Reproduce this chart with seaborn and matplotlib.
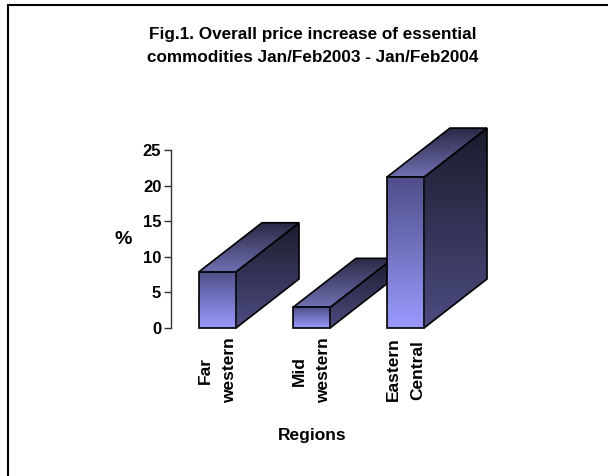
import numpy as np
import pandas as pd
import matplotlib
matplotlib.use("Agg")
import matplotlib.pyplot as plt
import seaborn as sns
from matplotlib.patches import Polygon
from matplotlib.lines import Line2D
from matplotlib.colors import to_rgb

# ---- data ----
regions = ["Far\nwestern", "Mid\nwestern", "Eastern\nCentral"]
increase_pct = [7.9, 2.9, 21.2]
y_ticks = [0, 5, 10, 15, 20, 25]
title_lines = ["Fig.1. Overall price increase of essential",
               "commodities Jan/Feb2003 - Jan/Feb2004"]

sns.set_theme(style="white")
plt.rcParams["font.family"] = ["Liberation Sans", "DejaVu Sans"]
plt.rcParams["text.color"] = "black"
plt.rcParams["axes.labelcolor"] = "black"
plt.rcParams["xtick.color"] = "black"
plt.rcParams["ytick.color"] = "black"

W, H = 608, 476
fig = plt.figure(figsize=(W / 100, H / 100), dpi=100)
fig.patch.set_facecolor("white")

px_per_cat = 94.0
px_per_unit = 7.12
x_left_px, x_right_px = 171, 500
y0_px = 328
ymax = 30
ax = fig.add_axes([x_left_px / W, (H - y0_px) / H,
                   (x_right_px - x_left_px) / W, ymax * px_per_unit / H])
ax.set_facecolor("none")

df = pd.DataFrame({"Region": regions, "Increase": increase_pct})
sns.barplot(data=df, x="Region", y="Increase", ax=ax, width=0.394,
            color="#9999ff", saturation=1, edgecolor="black", linewidth=1.2)

xl0 = -(217.5 - x_left_px) / px_per_cat
ax.set_xlim(xl0, xl0 + (x_right_px - x_left_px) / px_per_cat)
ax.set_ylim(0, ymax)

dx = 63 / px_per_cat
dy = 49 / px_per_unit


def grad_image(patch, xs, ys, c_top, c_bottom, z):
    n = 128
    t = np.linspace(0, 1, n)[:, None]
    img = np.array(to_rgb(c_bottom))[None, :] * (1 - t) + np.array(to_rgb(c_top))[None, :] * t
    img = img.reshape(n, 1, 3)
    im = ax.imshow(img, extent=[min(xs), max(xs), min(ys), max(ys)], origin="lower",
                   aspect="auto", zorder=z, interpolation="bilinear")
    im.set_clip_path(patch)
    im.set_clip_box(None)
    return im


bars = list(ax.patches)
for i, p in enumerate(bars):
    x0 = p.get_x()
    w = p.get_width()
    h = p.get_height()
    zb = 2 + 4 * i
    # side face
    side = np.array([[x0 + w, 0], [x0 + w + dx, dy], [x0 + w + dx, h + dy], [x0 + w, h]])
    sp = Polygon(side, closed=True, facecolor="none", edgecolor="black", lw=1.2,
                 zorder=zb + 0.5, clip_on=False, joinstyle="miter")
    ax.add_patch(sp)
    grad_image(sp, side[:, 0], side[:, 1], "#1b1b2d", "#4c4c80", zb)
    # top face
    top = np.array([[x0, h], [x0 + w, h], [x0 + w + dx, h + dy], [x0 + dx, h + dy]])
    tp = Polygon(top, closed=True, facecolor="none", edgecolor="black", lw=1.2,
                 zorder=zb + 1.5, clip_on=False, joinstyle="miter")
    ax.add_patch(tp)
    grad_image(tp, top[:, 0], top[:, 1], "#2a2a45", "#7070b4", zb + 1)
    # front face (the seaborn bar itself)
    p.set_facecolor("none")
    p.set_zorder(zb + 2.5)
    p.set_clip_on(False)
    grad_image(p, [x0, x0 + w], [0, h], "#4e4e88", "#9a9aff", zb + 2)

ax.set_xlim(xl0, xl0 + (x_right_px - x_left_px) / px_per_cat)
ax.set_ylim(0, ymax)

# axes styling
for s in ["top", "right", "bottom"]:
    ax.spines[s].set_visible(False)
ax.spines["left"].set_bounds(0, 25)
ax.spines["left"].set_color("#333333")
ax.spines["left"].set_linewidth(1.0)
ax.set_yticks(y_ticks)
ax.set_yticklabels([str(v) for v in y_ticks], fontsize=12, fontweight="bold")
ax.tick_params(axis="y", direction="out", length=5, width=1, color="#333333",
               pad=2, left=True)
ax.tick_params(axis="x", length=0, pad=7, rotation=90)
for lbl in ax.get_xticklabels():
    lbl.set_fontweight("bold")
    lbl.set_fontsize(12.5)
    lbl.set_multialignment("center")
    lbl.set_linespacing(1.75)

ax.set_xlabel("Regions", fontsize=12.5, fontweight="bold")
ax.xaxis.set_label_coords((312 - x_left_px) / (x_right_px - x_left_px),
                          -(428 - y0_px) / (ymax * px_per_unit))
ax.set_ylabel("%", fontsize=14, fontweight="bold", rotation=0, va="center", ha="center")
ax.yaxis.set_label_coords((123 - x_left_px) / (x_right_px - x_left_px),
                          (y0_px - 240) / (ymax * px_per_unit))

# title
fig.text(313 / W, 1 - 34 / H, title_lines[0], ha="center", va="center",
         fontsize=12.3, fontweight="bold")
fig.text(313 / W, 1 - 57 / H, title_lines[1], ha="center", va="center",
         fontsize=12.3, fontweight="bold")

# chart-area border (left and top edges visible)
fig.add_artist(Line2D([8 / W, 8 / W], [0, 1 - 4.5 / H], transform=fig.transFigure,
                      color="black", lw=1.5))
fig.add_artist(Line2D([8 / W, 1], [1 - 4.5 / H, 1 - 4.5 / H], transform=fig.transFigure,
                      color="black", lw=1.5))

fig.savefig("out.png", dpi=100)
